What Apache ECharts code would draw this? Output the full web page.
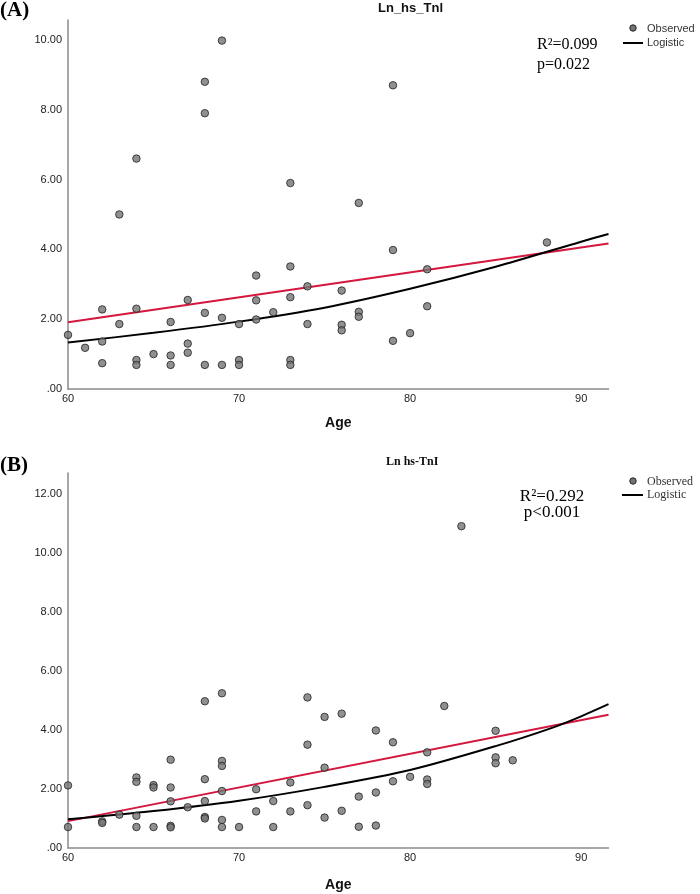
<!DOCTYPE html>
<html>
<head>
<meta charset="utf-8">
<script src="https://cdn.jsdelivr.net/npm/echarts@6/dist/echarts.min.js"></script>
<style>
html,body{margin:0;padding:0;background:#fff;}
#chart{width:700px;height:894px;}
</style>
</head>
<body>
<div id="chart"></div>
<script>
// ---------- Panel A data (Ln_hs_Tnl vs Age) ----------
var ageA = [60,61,62,62,62,63,63,64,64,64,64,65,66,66,66,67,67,67,68,68,68,68,69,69,69,70,70,70,71,71,71,72,73,73,73,73,73,74,74,76,76,76,77,77,77,79,79,79,80,81,81,88];
var valA = [1.55,1.18,2.28,1.36,0.74,5.00,1.86,6.60,2.30,0.83,0.69,1.00,1.92,0.96,0.69,2.55,1.30,1.04,8.80,7.90,2.18,0.69,9.98,2.04,0.69,1.86,0.83,0.69,3.25,2.54,1.99,2.20,5.90,3.51,2.63,0.83,0.69,2.94,1.86,2.82,1.84,1.68,5.33,2.21,2.07,8.70,3.98,1.38,1.60,3.43,2.37,4.20];
// fitted lines
var linAx = [60, 91.6];
var linAy = [1.91, 4.17];
var logAx = [60, 65, 70, 75, 80, 85, 90, 91.6];
var logAy = [1.33, 1.61, 1.93, 2.33, 2.87, 3.50, 4.22, 4.44];

// ---------- Panel B data (Ln hs-TnI vs Age) ----------
var ageB = [60,60,62,62,63,64,64,64,64,65,65,65,66,66,66,66,66,67,68,68,68,68,68,69,69,69,69,69,69,70,71,71,72,72,73,73,74,74,74,75,75,75,76,76,77,77,78,78,78,79,79,80,81,81,81,82,83,85,85,85,86];
var valB = [2.12,0.71,0.90,0.85,1.13,2.39,2.24,1.09,0.71,2.13,2.05,0.71,2.99,2.05,1.58,0.75,0.70,1.38,4.97,2.33,1.59,1.05,1.00,5.24,2.95,2.78,1.93,0.95,0.71,0.71,1.99,1.24,1.59,0.71,2.22,1.24,5.10,3.50,1.45,4.44,2.72,1.03,4.55,1.26,1.74,0.72,3.98,1.88,0.76,3.58,2.26,2.41,3.24,2.32,2.17,4.81,10.90,3.97,3.07,2.87,2.97];
var linBx = [60, 91.6];
var linBy = [0.91, 4.51];
var logBx = [60, 65, 70, 75, 80, 85, 88.3, 90, 91.6];
var logBy = [0.97, 1.25, 1.60, 2.07, 2.64, 3.45, 4.07, 4.46, 4.87];

// tick labels
var xTicks = [60, 70, 80, 90];

function pairs(xs, ys){ return xs.map(function(x,i){ return [x, ys[i]]; }); }

var SANS = '"Liberation Sans", Arial, sans-serif';
var SERIF = '"Liberation Serif", "Times New Roman", serif';
var ptColor = '#747474';
var red = '#d4173f';

function yFmt(v){ return v === 0 ? '.00' : v.toFixed(2); }
function xFmt(v){ return xTicks.indexOf(v) >= 0 ? String(v) : ''; }

function xAxisCfg(gi, gap){
  return {
    type:'value', gridIndex:gi, min:60, max:91.6, interval:10,
    name:'Age', nameLocation:'middle', nameGap:gap,
    nameTextStyle:{fontFamily:SANS, fontWeight:'bold', fontSize:14, color:'#111'},
    axisLine:{onZero:false, lineStyle:{color:'#8a8a8a', width:1.5}},
    axisTick:{show:false},
    splitLine:{show:false},
    axisLabel:{formatter:xFmt, showMaxLabel:false, fontFamily:SANS, fontSize:11, color:'#222', margin:4}
  };
}
function yAxisCfg(gi, max){
  return {
    type:'value', gridIndex:gi, min:0, max:max, interval:2,
    axisLine:{show:true, lineStyle:{color:'#8a8a8a', width:1.5}},
    axisTick:{show:false},
    splitLine:{show:false},
    axisLabel:{formatter:yFmt, showMaxLabel:false, fontFamily:SANS, fontSize:11, color:'#222', margin:6}
  };
}

function scatter(xi, xs, ys){
  return {
    type:'scatter', xAxisIndex:xi, yAxisIndex:xi, data:pairs(xs, ys),
    symbol:'circle', symbolSize:7.5,
    itemStyle:{color:ptColor, borderColor:'#222', borderWidth:1},
    z:3
  };
}
function line(xi, xs, ys, color, smooth){
  return {
    type:'line', xAxisIndex:xi, yAxisIndex:xi, data:pairs(xs, ys),
    symbol:'none', smooth:smooth, lineStyle:{color:color, width:2},
    z:2
  };
}

var chart = echarts.init(document.getElementById('chart'), null, {renderer:'canvas'});
chart.setOption({
  animation:false,
  backgroundColor:'#ffffff',
  grid:[
    {left:68, top:20, right:91.5, bottom:505},
    {left:68, top:473, right:91.5, bottom:46}
  ],
  xAxis:[xAxisCfg(0, 27), xAxisCfg(1, 30)],
  yAxis:[yAxisCfg(0, 10.57), yAxisCfg(1, 12.7)],
  series:[
    scatter(0, ageA, valA),
    line(0, linAx, linAy, red, false),
    line(0, logAx, logAy, '#000', 0.3),
    scatter(1, ageB, valB),
    line(1, linBx, linBy, red, false),
    line(1, logBx, logBy, '#000', 0.3)
  ],
  graphic:[
    {type:'text', left:0, top:0, style:{text:'(A)', font:'bold 21px '+SERIF, fill:'#000'}},
    {type:'text', left:0, top:455, style:{text:'(B)', font:'bold 21px '+SERIF, fill:'#000'}},
    {type:'text', left:378, top:2, style:{text:'Ln_hs_Tnl', font:'bold 13px '+SANS, fill:'#111'}},
    {type:'text', left:386, top:456, style:{text:'Ln hs-TnI', font:'bold 12px '+SERIF, fill:'#111'}},
    // legend A
    {type:'circle', shape:{cx:633, cy:28, r:3.2}, style:{fill:ptColor, stroke:'#222', lineWidth:1}},
    {type:'text', x:647, y:29, style:{text:'Observed', font:'11px '+SANS, fill:'#333', verticalAlign:'middle'}},
    {type:'line', shape:{x1:623, y1:43, x2:643, y2:43}, style:{stroke:'#000', lineWidth:2}},
    {type:'text', x:647, y:43, style:{text:'Logistic', font:'11px '+SANS, fill:'#333', verticalAlign:'middle'}},
    // legend B
    {type:'circle', shape:{cx:633, cy:481, r:3.2}, style:{fill:ptColor, stroke:'#222', lineWidth:1}},
    {type:'text', x:647, y:482, style:{text:'Observed', font:'12px '+SERIF, fill:'#333', verticalAlign:'middle'}},
    {type:'line', shape:{x1:622, y1:495, x2:643, y2:495}, style:{stroke:'#000', lineWidth:2}},
    {type:'text', x:647, y:495, style:{text:'Logistic', font:'12px '+SERIF, fill:'#333', verticalAlign:'middle'}},
    // statistics
    {type:'text', x:537, y:45, style:{text:'R\u00b2=0.099', font:'16px '+SERIF, fill:'#000', verticalAlign:'middle'}},
    {type:'text', x:537, y:65, style:{text:'p=0.022', font:'16px '+SERIF, fill:'#000', verticalAlign:'middle'}},
    {type:'text', x:552, y:497, style:{text:'R\u00b2=0.292', font:'17px '+SERIF, fill:'#000', align:'center', verticalAlign:'middle'}},
    {type:'text', x:552, y:513, style:{text:'p<0.001', font:'17px '+SERIF, fill:'#000', align:'center', verticalAlign:'middle'}}
  ]
});
</script>
</body>
</html>
